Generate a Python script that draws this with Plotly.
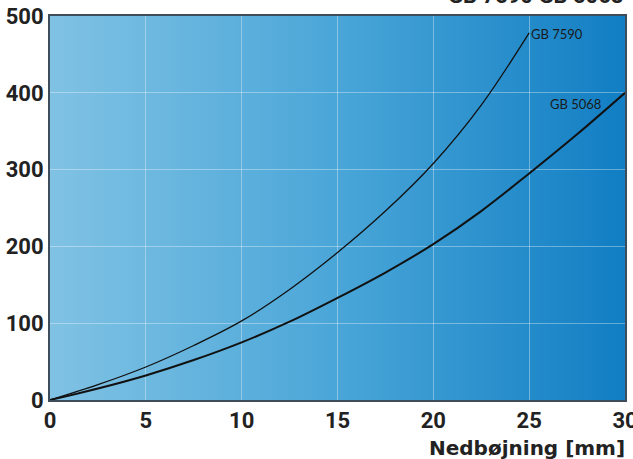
import base64
import plotly.graph_objects as go

# Data
x_7590 = [0, 2.5, 5, 7.5, 10, 12.5, 15, 17.5, 20, 22.5, 25]
y_7590 = [0, 20, 43, 71, 103, 144, 192, 246, 308, 384, 478]
x_5068 = [0, 2.5, 5, 7.5, 10, 12.5, 15, 17.5, 20, 22.5, 25, 27.5, 30]
y_5068 = [0, 15, 32, 52, 75, 102, 133, 166, 203, 246, 295, 346, 400]
x_ticks = [0, 5, 10, 15, 20, 25, 30]
y_ticks = [0, 100, 200, 300, 400, 500]
label_7590 = "GB 7590"
label_5068 = "GB 5068"
title_text = "GB 7590 GB 5068"
x_title = "Nedbøjning [mm]"

svg = ('<svg xmlns="http://www.w3.org/2000/svg" width="600" height="400" preserveAspectRatio="none">'
       '<defs><linearGradient id="g" x1="0" y1="0" x2="1" y2="0">'
       '<stop offset="0" stop-color="#80c2e4"/>'
       '<stop offset="0.5" stop-color="#4aa6d8"/>'
       '<stop offset="1" stop-color="#117ec3"/>'
       '</linearGradient></defs>'
       '<rect width="600" height="400" fill="url(#g)"/></svg>')
uri = "data:image/svg+xml;base64," + base64.b64encode(svg.encode()).decode()

fig = go.Figure()
fig.add_trace(go.Scatter(x=x_7590, y=y_7590, mode="lines",
                         line=dict(color="#111111", width=1.3, shape="spline", smoothing=1.0),
                         hoverinfo="skip", showlegend=False))
fig.add_trace(go.Scatter(x=x_5068, y=y_5068, mode="lines",
                         line=dict(color="#111111", width=2, shape="spline", smoothing=1.0),
                         hoverinfo="skip", showlegend=False))

fig.add_layout_image(dict(source=uri, xref="paper", yref="paper", x=0, y=1, sizex=1, sizey=1,
                          xanchor="left", yanchor="top", sizing="stretch", layer="below"))

tickfont = dict(family="Roboto", size=22, color="#222222", weight="bold")
fig.update_xaxes(range=[0, 30], tickvals=x_ticks, showgrid=True, gridcolor="rgba(255,255,255,0.35)", gridwidth=1,
                 zeroline=False, showline=True, linecolor="#3d4d5c", linewidth=2, mirror=True,
                 tickfont=tickfont, ticks="", automargin=False, ticklabeloverflow="allow")
fig.update_yaxes(range=[0, 500], tickvals=y_ticks, showgrid=True, gridcolor="rgba(255,255,255,0.35)", gridwidth=1,
                 zeroline=False, showline=True, linecolor="#3d4d5c", linewidth=2, mirror=True,
                 tickfont=tickfont, ticks="", automargin=False, ticklabeloverflow="allow")

fig.add_annotation(x=x_7590[-1], y=y_7590[-1], text=label_7590, showarrow=False, xanchor="left", yanchor="middle",
                   font=dict(family="Lato", size=13, color="#1a1a1a"), xshift=0, yshift=-1)
fig.add_annotation(x=x_5068[-1], y=y_5068[-1], text=label_5068, showarrow=False, xanchor="right", yanchor="top",
                   font=dict(family="Lato", size=13, color="#1a1a1a"), xshift=-22, yshift=-1)
fig.add_annotation(xref="paper", yref="paper", x=1, y=1.005, yshift=4, text=title_text, showarrow=False,
                   xanchor="right", yanchor="bottom", font=dict(family="Roboto", size=22, color="#222222", weight="bold"))
fig.add_annotation(xref="paper", yref="paper", x=1.003, y=-0.088, text=x_title, showarrow=False,
                   xanchor="right", yanchor="top", font=dict(family="DejaVu Sans", size=20, color="#222222", weight="bold"))

fig.update_layout(width=633, height=459, margin=dict(l=50, r=8, t=16, b=59, autoexpand=False),
                  paper_bgcolor="white", plot_bgcolor="rgba(0,0,0,0)")
fig.write_html("out.html", config={"displayModeBar": False},
               post_script="document.body.style.margin='0';document.body.style.overflow='hidden';")
